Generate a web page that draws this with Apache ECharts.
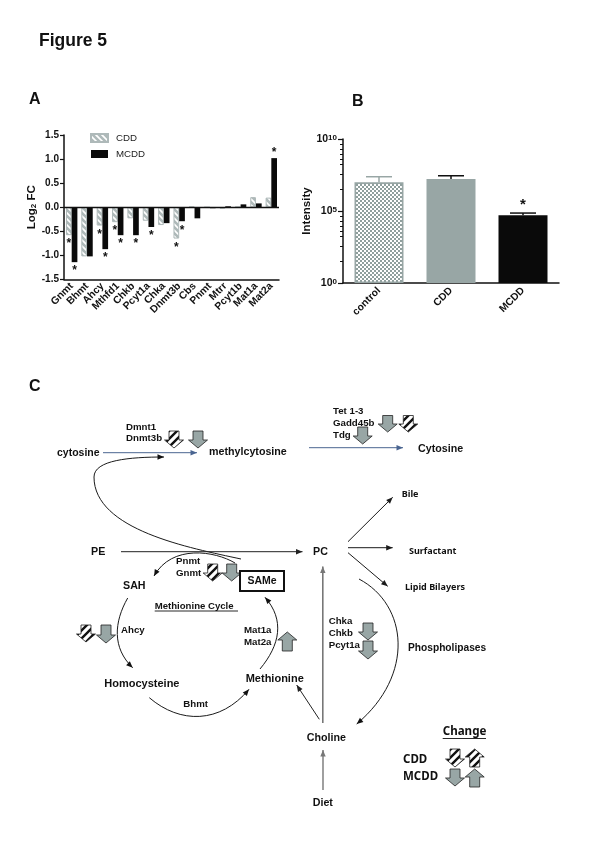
<!DOCTYPE html>
<html>
<head>
<meta charset="UTF-8">
<title>Figure 5</title>
<style>
  html, body { margin: 0; padding: 0; background: #fff; }
  #main { width: 595px; height: 842px; }
</style>
<script src="https://cdn.jsdelivr.net/npm/echarts@6/dist/echarts.min.js"></script>
</head>
<body>
<div id="main"></div>
<script>
// panel A
var genes = ['Gnmt', 'Bhmt', 'Ahcy', 'Mthfd1', 'Chkb', 'Pcyt1a', 'Chka', 'Dnmt3b', 'Cbs', 'Pnmt', 'Mtrr', 'Pcyt1b', 'Mat1a', 'Mat2a'];
var cddFC = [-0.58, -1.02, -0.38, -0.31, -0.23, -0.28, -0.37, -0.65, 0.01, 0, -0.03, 0.01, 0.21, 0.2];
var mcddFC = [-1.14, -1.02, -0.87, -0.58, -0.58, -0.41, -0.33, -0.29, -0.23, -0.02, 0.02, 0.06, 0.08, 1.02];
var cddSig = ['Gnmt', 'Ahcy', 'Mthfd1', 'Dnmt3b'];
var mcddSig = ['Gnmt', 'Ahcy', 'Mthfd1', 'Chkb', 'Pcyt1a', 'Dnmt3b', 'Mat2a'];

// panel B
var groups = ['control', 'CDD', 'MCDD'];
var intensity = [9.8e6, 1.66e7, 5e4];
var intensityErr = [2.4e7, 2.8e7, 7.2e4];
var groupSig = [false, false, true];
// small ticks between the decades, as exponents of 10
var minorExp = [1.5, 2.55, 3.25, 3.6, 3.95, 4.3, 4.65, 6.5, 7.55, 8.25, 8.6, 8.95, 9.3, 9.65];

var FONT = '"Liberation Sans", Arial, sans-serif';
var NOTO = '"Noto Sans", sans-serif';
var GREY = '#98a6a5';

function patternCanvas(w, h, draw) {
    var c = document.createElement('canvas');
    c.width = w;
    c.height = h;
    draw(c.getContext('2d'));
    return { image: c, repeat: 'repeat' };
}
var dashFill = patternCanvas(6, 6, function (g) {
    g.fillStyle = '#aeb9b9';
    g.fillRect(0, 0, 6, 6);
    g.strokeStyle = '#fff';
    g.lineWidth = 1.6;
    g.beginPath();
    g.moveTo(-1, 1); g.lineTo(5, 7);
    g.moveTo(2, -2); g.lineTo(8, 4);
    g.stroke();
});
var checkFill = patternCanvas(4, 4, function (g) {
    g.fillStyle = '#fff';
    g.fillRect(0, 0, 4, 4);
    g.fillStyle = '#8f9f9d';
    g.fillRect(0, 0, 2, 2);
    g.fillRect(2, 2, 2, 2);
});
var stripeFill = patternCanvas(8, 8, function (g) {
    g.fillStyle = '#fff';
    g.fillRect(0, 0, 8, 8);
    g.strokeStyle = '#111';
    g.lineWidth = 2.4;
    g.beginPath();
    g.moveTo(-2, 2); g.lineTo(2, -2);
    g.moveTo(-2, 10); g.lineTo(10, -2);
    g.moveTo(6, 10); g.lineTo(10, 6);
    g.stroke();
});

// diagram helpers
var shapes = [];
function txt(s, x, y, size, extra) {
    shapes.push({
        type: 'text', x: x, y: y, silent: true,
        style: Object.assign({ text: s, fill: '#111', font: 'bold ' + size + 'px ' + FONT, textVerticalAlign: 'middle' }, extra || {})
    });
}
function head(x, y, fromX, fromY, color) {
    var a = Math.atan2(y - fromY, x - fromX), l = 6.5, w = 2.7;
    var bx = x - l * Math.cos(a), by = y - l * Math.sin(a);
    shapes.push({
        type: 'polygon', silent: true,
        shape: { points: [[x, y], [bx - w * Math.sin(a), by + w * Math.cos(a)], [bx + w * Math.sin(a), by - w * Math.cos(a)]] },
        style: { fill: color }
    });
}
function arrow(x1, y1, x2, y2, color, width) {
    shapes.push({
        type: 'line', silent: true,
        shape: { x1: x1, y1: y1, x2: x2, y2: y2 },
        style: { stroke: color, lineWidth: width || 1 }
    });
    head(x2, y2, x1, y1, color);
}
function curve(x1, y1, c1x, c1y, c2x, c2y, x2, y2, noHead) {
    shapes.push({
        type: 'bezierCurve', silent: true,
        shape: { x1: x1, y1: y1, cpx1: c1x, cpy1: c1y, cpx2: c2x, cpy2: c2y, x2: x2, y2: y2 },
        style: { fill: null, stroke: '#1a1a1a', lineWidth: 1 }
    });
    if (!noHead) head(x2, y2, c2x, c2y, '#111');
}
function blockDown(cx, top, h, fill) {
    blockArrow(cx, top, top + h, fill);
}
function blockUp(cx, top, h, fill) {
    blockArrow(cx, top + h, top, fill);
}
function blockArrow(cx, tail, tip, fill) {
    var s = tip > tail ? 1 : -1, neck = tip - s * 8, sw = 5, hw = 9.5;
    shapes.push({
        type: 'polygon', silent: true,
        shape: {
            points: [[cx - sw, tail], [cx + sw, tail], [cx + sw, neck], [cx + hw, neck], [cx, tip], [cx - hw, neck], [cx - sw, neck]]
        },
        style: { fill: fill, stroke: '#222', lineWidth: 0.8 }
    });
}

// headings
txt('Figure 5', 39, 41, 17.5);
txt('A', 29, 100, 16);
txt('B', 352, 102, 16);
txt('C', 29, 387, 16);

// methylation row
txt('cytosine', 57, 453, 10.5);
txt('methylcytosine', 209, 452, 10.7);
txt('Cytosine', 418, 449, 10.7);
txt('Dmnt1', 126, 427, 9.7);
txt('Dnmt3b', 126, 438.5, 9.7);
txt('Tet 1-3', 333, 411, 9.7);
txt('Gadd45b', 333, 423, 9.7);
txt('Tdg', 333, 435, 9.7);
arrow(103, 452.7, 197, 452.7, '#4a6591');
arrow(309, 447.7, 403, 447.7, '#4a6591');
blockDown(174, 431, 17, stripeFill);
blockDown(198, 431, 17, GREY);
blockDown(387.7, 415.5, 16.5, GREY);
blockDown(408.3, 415.5, 16.5, stripeFill);
blockDown(362.7, 427, 17, GREY);

// long curve back to the methylation row
curve(241, 559, 190, 548, 94, 530, 94, 477, true);
curve(94, 477, 94, 460, 130, 457, 164, 457);

// PE to PC
txt('PE', 91, 552, 10.7);
txt('PC', 313, 552, 10.7);
arrow(121, 551.7, 302.5, 551.7, '#222');

// methionine cycle
txt('Pnmt', 176, 561, 9.7);
txt('Gnmt', 176, 573, 9.7);
txt('SAH', 123, 586, 10.7);
txt('Ahcy', 121, 630, 9.7);
txt('Mat1a', 244, 630.5, 9.7);
txt('Mat2a', 244, 642.5, 9.7);
txt('Homocysteine', 104.3, 684, 11);
txt('Methionine', 245.7, 679, 11);
txt('Bhmt', 183.3, 704.5, 9.7);
txt('Methionine Cycle', 154.7, 606, 9.6);
shapes.push({
    type: 'line', silent: true,
    shape: { x1: 154.7, y1: 611, x2: 238, y2: 611 },
    style: { stroke: '#111', lineWidth: 0.9 }
});
curve(235, 563, 215, 551, 172, 544, 154, 576);
curve(127.7, 598, 114, 622, 112, 648, 132.7, 667.7);
curve(149.3, 697.7, 180, 724, 220, 724, 249, 689.3);
curve(260, 669, 280, 645, 285, 620, 265, 597.3);
blockDown(212.7, 564, 17, stripeFill);
blockDown(231.7, 564, 17, GREY);
blockDown(86, 625, 17, stripeFill);
blockDown(106, 625, 18, GREY);
blockUp(287.3, 632, 19, GREY);
shapes.push({
    type: 'rect', silent: true,
    shape: { x: 240, y: 571, width: 44, height: 20 },
    style: { fill: '#fff', stroke: '#111', lineWidth: 2 }
});
txt('SAMe', 262, 581, 10.5, { textAlign: 'center' });

// PC outputs
txt('Bile', 401.7, 494.5, 9, { font: 'bold 9px ' + NOTO });
txt('Surfactant', 409, 551.5, 9, { font: 'bold 9px ' + NOTO });
txt('Lipid Bilayers', 405, 587, 9, { font: 'bold 9px ' + NOTO });
arrow(348, 541.7, 392.7, 497.3, '#1a1a1a');
arrow(348, 547.7, 392.7, 547.7, '#1a1a1a');
arrow(348, 552.7, 387.7, 586.3, '#1a1a1a');

// choline branch
txt('Chka', 328.7, 621.7, 9.7);
txt('Chkb', 328.7, 633.7, 9.7);
txt('Pcyt1a', 328.7, 645.7, 9.7);
txt('Phospholipases', 408, 648, 10.2);
txt('Choline', 306.7, 738.5, 10.7);
txt('Diet', 312.7, 803, 10.7);
blockDown(368, 623, 17, GREY);
blockDown(368, 641, 18, GREY);
arrow(322.8, 723, 322.8, 566.5, '#777', 1.6);
arrow(323, 790, 323, 750, '#777', 1.4);
arrow(319.3, 719.3, 296.7, 685, '#222');
curve(359, 579, 408, 605, 415, 675, 356.7, 724);

// key
txt('Change', 442.7, 731.5, 11.6, { font: 'bold 11.6px ' + NOTO });
shapes.push({
    type: 'line', silent: true,
    shape: { x1: 442.7, y1: 738.5, x2: 486, y2: 738.5 },
    style: { stroke: '#111', lineWidth: 0.9 }
});
txt('CDD', 403, 760, 11.5, { font: 'bold 11.5px ' + NOTO });
txt('MCDD', 403, 776.7, 11.5, { font: 'bold 11.5px ' + NOTO });
blockDown(455, 749, 18, stripeFill);
blockUp(474.7, 749, 18, stripeFill);
blockDown(455, 769, 17, GREY);
blockUp(474.7, 769, 18, GREY);

function starLabel(list) {
    return {
        show: true,
        fontFamily: FONT,
        fontWeight: 'bold',
        fontSize: 12,
        color: '#111',
        distance: 3,
        position: 'bottom',
        formatter: function (p) {
            return list.indexOf(p.name) >= 0 ? '*' : '';
        }
    };
}
function barData(values, list) {
    return values.map(function (v, i) {
        return v > 0 && list.indexOf(genes[i]) >= 0
            ? { value: v, label: { position: 'top', distance: -1 } }
            : v;
    });
}

var axisText = { fontFamily: FONT, fontWeight: 'bold', fontSize: 10, color: '#111' };
var catText = { fontFamily: FONT, fontWeight: 'bold', fontSize: 10.3, color: '#111' };

var option = {
    animation: false,
    backgroundColor: '#fff',
    grid: [
        { left: 64, top: 135, width: 215, height: 144.5 },
        { left: 343, top: 139, width: 216, height: 144 }
    ],
    legend: {
        left: 85, top: 128, orient: 'vertical', icon: 'rect',
        itemWidth: 17, itemHeight: 8, itemGap: 6,
        data: ['CDD', 'MCDD'],
        textStyle: { fontFamily: FONT, fontSize: 9.7, color: '#222', padding: [0, 0, 0, 3] }
    },
    xAxis: [
        {
            gridIndex: 0, type: 'category', data: genes,
            axisLine: { onZero: false, lineStyle: { color: '#111', width: 1.5 } },
            axisTick: { alignWithLabel: true, length: 4, lineStyle: { color: '#111', width: 1.2 } },
            axisLabel: Object.assign({ rotate: 45, interval: 0, margin: 5 }, catText)
        },
        {
            gridIndex: 1, type: 'category', data: groups,
            axisLine: { lineStyle: { color: '#111', width: 1.5 } },
            axisTick: { alignWithLabel: true, length: 4, lineStyle: { color: '#111', width: 1.2 } },
            axisLabel: Object.assign({ rotate: 45, interval: 0, margin: 6 }, catText)
        }
    ],
    yAxis: [
        {
            gridIndex: 0, type: 'value', min: -1.5, max: 1.5, interval: 0.5,
            name: '{a|Log}{b|2}{a| FC}',
            nameLocation: 'middle', nameGap: 22, nameRotate: 90,
            nameTextStyle: {
                rich: {
                    a: { fontFamily: FONT, fontWeight: 'bold', fontSize: 11.5, color: '#111' },
                    b: { fontFamily: FONT, fontWeight: 'bold', fontSize: 8, color: '#111', verticalAlign: 'bottom' }
                }
            },
            axisLine: { show: true, lineStyle: { color: '#111', width: 1.5 } },
            axisTick: { show: true, length: 4, lineStyle: { color: '#111', width: 1.2 } },
            axisLabel: Object.assign({ margin: 5, formatter: function (v) { return v.toFixed(1); } }, axisText),
            splitLine: { show: false }
        },
        {
            gridIndex: 1, type: 'log', logBase: 10, min: 1, max: 1e10, interval: 5,
            name: 'Intensity',
            nameLocation: 'middle', nameGap: 15, nameRotate: 90,
            nameTextStyle: { fontFamily: FONT, fontWeight: 'bold', fontSize: 11.5, color: '#111' },
            axisLine: { show: true, lineStyle: { color: '#111', width: 1.5 } },
            axisTick: { show: true, length: 5, lineStyle: { color: '#111', width: 1.2 } },
            axisLabel: {
                margin: 6,
                formatter: function (v) {
                    return '{n|10}{e|' + Math.round(Math.log10(v)) + '}';
                },
                rich: {
                    n: { fontFamily: FONT, fontWeight: 'bold', fontSize: 10.5, color: '#111' },
                    e: { fontFamily: FONT, fontWeight: 'bold', fontSize: 8, color: '#111', verticalAlign: 'top' }
                }
            },
            splitLine: { show: false }
        },
        {
            // same pixel range as the log axis, only for its small ticks
            gridIndex: 1, type: 'value', position: 'left', min: 0, max: 10,
            axisLine: { show: false },
            axisLabel: { show: false },
            splitLine: { show: false },
            axisTick: { show: true, length: 3, customValues: minorExp, lineStyle: { color: '#111', width: 1 } }
        }
    ],
    series: [
        {
            name: 'CDD', type: 'bar', xAxisIndex: 0, yAxisIndex: 0,
            barWidth: 5.7, barGap: 0,
            data: barData(cddFC, cddSig),
            itemStyle: { color: dashFill, borderColor: '#aeb9b9', borderWidth: 1 },
            label: starLabel(cddSig)
        },
        {
            name: 'MCDD', type: 'bar', xAxisIndex: 0, yAxisIndex: 0,
            barWidth: 5.7, barGap: 0,
            data: barData(mcddFC, mcddSig),
            itemStyle: { color: '#0a0a0a' },
            label: starLabel(mcddSig),
            markLine: {
                silent: true, symbol: 'none', z: 10,
                label: { show: false },
                lineStyle: { color: '#111', width: 1.3, type: 'solid' },
                data: [{ yAxis: 0 }]
            }
        },
        {
            name: 'intensity', type: 'bar', xAxisIndex: 1, yAxisIndex: 1,
            barWidth: 49,
            data: intensity.map(function (v, i) {
                var styles = [
                    { color: checkFill, borderColor: GREY, borderWidth: 1.6 },
                    { color: GREY },
                    { color: '#0a0a0a' }
                ];
                return { value: v, itemStyle: styles[i] };
            })
        },
        {
            name: 'error', type: 'custom', xAxisIndex: 1, yAxisIndex: 1, z: 3,
            data: intensityErr.map(function (v, i) { return [i, intensity[i], v]; }),
            encode: { x: 0, y: 2 },
            renderItem: function (params, api) {
                var i = api.value(0);
                var low = api.coord([i, api.value(1)]);
                var high = api.coord([i, api.value(2)]);
                var col = i === 0 ? GREY : '#111';
                var kids = [
                    { type: 'line', shape: { x1: low[0], y1: low[1], x2: low[0], y2: high[1] }, style: { stroke: col, lineWidth: 1.5 } },
                    { type: 'line', shape: { x1: low[0] - 13, y1: high[1], x2: low[0] + 13, y2: high[1] }, style: { stroke: col, lineWidth: 1.5 } }
                ];
                if (groupSig[i]) {
                    kids.push({
                        type: 'text', x: low[0], y: high[1] - 8,
                        style: { text: '*', fill: '#111', font: 'bold 15px ' + FONT, textAlign: 'center', textVerticalAlign: 'middle' }
                    });
                }
                return { type: 'group', children: kids };
            }
        }
    ],
    graphic: shapes
};

var chart = echarts.init(document.getElementById('main'), null, { renderer: 'canvas' });
chart.setOption(option);
</script>
</body>
</html>
